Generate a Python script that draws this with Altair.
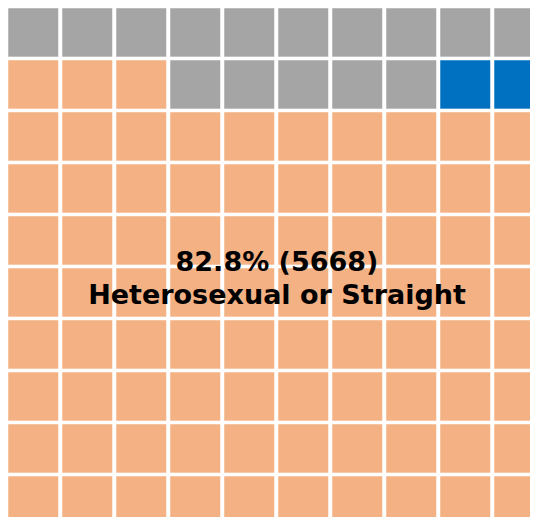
import altair as alt
import pandas as pd

# Waffle grid: one string per row (top to bottom), one letter per cell
row_codes = [
    "GGGGGGGGGG",
    "OOOGGGGGBB",
    "OOOOOOOOOO",
    "OOOOOOOOOO",
    "OOOOOOOOOO",
    "OOOOOOOOOO",
    "OOOOOOOOOO",
    "OOOOOOOOOO",
    "OOOOOOOOOO",
    "OOOOOOOOOO",
]
code_keys = ["O", "G", "B"]
code_names = ["Heterosexual or Straight", "Other / Not stated", "Gay or Lesbian"]
code_colors = ["#f4b183", "#a5a5a5", "#0070c0"]
label_lines = ["82.8% (5668)", "Heterosexual or Straight"]

W, H = 522, 509
name_of = dict(zip(code_keys, code_names))
rows = []
for r, codes in enumerate(row_codes):
    for c, ch in enumerate(codes):
        rows.append({"row": r, "row2": r + 0.94, "col": c, "col2": c + 0.935,
                     "group": name_of[ch]})
df = pd.DataFrame(rows)

cells = alt.Chart(df).mark_rect(
    stroke="white", strokeWidth=1, strokeOpacity=0.5, clip=True
).encode(
    x=alt.X("col:Q", axis=None, scale=alt.Scale(domain=[0, W / 54], nice=False, zero=False)),
    x2="col2:Q",
    y=alt.Y("row:Q", axis=None,
            scale=alt.Scale(domain=[0, H / 52], nice=False, zero=False, reverse=True)),
    y2="row2:Q",
    color=alt.Color("group:N", legend=None,
                    scale=alt.Scale(domain=code_names, range=code_colors)),
)

label = alt.Chart(pd.DataFrame({"t": [label_lines]})).mark_text(
    font="DejaVu Sans", fontWeight="bold", fontSize=27, color="black",
    lineHeight=33, align="center", baseline="middle",
).encode(
    text="t",
    x=alt.value(269),
    y=alt.value(255),
)

chart = alt.layer(cells, label).properties(
    width=W, height=H, padding=0
).configure_view(stroke=None)

chart.save("out.html", embed_options={"renderer": "svg", "actions": False})
